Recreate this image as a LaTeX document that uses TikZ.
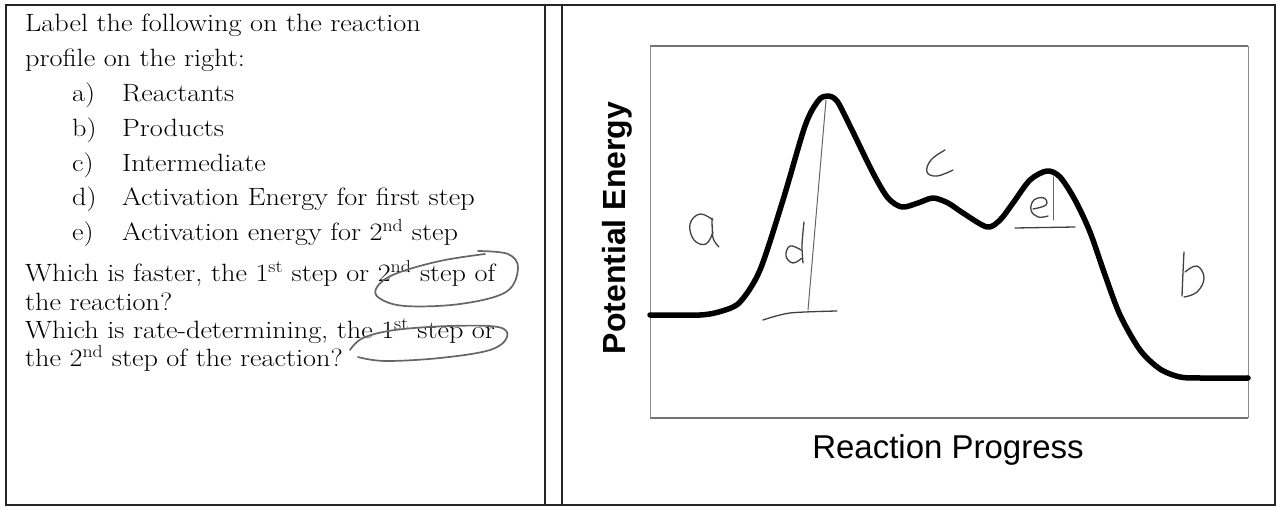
\documentclass[tikz,border=0pt]{standalone}
\usepackage{fontspec}
\usepackage{graphicx}
\newfontfamily\arialf{Liberation Sans}
\newcommand\sx[1]{\scalebox{1.13}[1]{#1}}
\tikzset{
  txt/.style={anchor=base west, inner sep=0pt, font=\fontsize{25}{30}\selectfont},
  ylabel/.style={inner sep=0pt, font=\arialf\bfseries\fontsize{32}{36}\selectfont},
  xlabel/.style={inner sep=0pt, font=\arialf\fontsize{33}{36}\selectfont},
  curve/.style={line width=5.5pt, line cap=round, line join=round},
  pencil/.style={draw=black!75, line width=1.3pt, line cap=round, line join=round},
  penthin/.style={draw=black!60, line width=1pt, line cap=round},
  circ/.style={draw=black!60, line width=1.7pt, line cap=round},
  frameh/.style={draw=black!55, line width=2.5pt},
  framev/.style={draw=black!45, line width=0.9pt},
  tableline/.style={draw=black!85, line width=1.1pt}
}
\begin{document}
\begin{tikzpicture}[x=1pt,y=-1pt]
\useasboundingbox (0,0) rectangle (1278,510);
% table
\draw[tableline] (6,5) rectangle (1275,505);
\draw[tableline] (545,5) -- (545,505);
\draw[tableline] (562,5) -- (562,505);
% left text
\node[txt] (l1) at (25,32) {\sx{Label the following on the reaction}};
\node[txt] (l2) at (25,67) {\sx{profile on the right:}};
\node[txt] (la) at (72,102) {\sx{a)}};
\node[txt] (ta) at (122,102) {\sx{Reactants}};
\node[txt] (lb) at (72,137) {\sx{b)}};
\node[txt] (tb) at (122,137) {\sx{Products}};
\node[txt] (lc) at (72,172) {\sx{c)}};
\node[txt] (tc) at (122,172) {\sx{Intermediate}};
\node[txt] (ld) at (72,206) {\sx{d)}};
\node[txt] (td) at (122,206) {\sx{Activation Energy for first step}};
\node[txt] (le) at (72,241) {\sx{e)}};
\node[txt] (te) at (122,241) {\sx{Activation energy for 2\textsuperscript{nd} step}};
\node[txt] (wf) at (25,282) {\sx{Which is faster, the 1\textsuperscript{st} step or 2\textsuperscript{nd} step of}};
\node[txt] (tr) at (25,311) {\sx{the reaction?}};
\node[txt] (wr) at (25,339) {\sx{Which is rate-determining, the 1\textsuperscript{st} step or}};
\node[txt] (t2) at (25,367) {\sx{the 2\textsuperscript{nd} step of the reaction?}};
% pencil ellipses
\draw[circ] plot[smooth, tension=0.6] coordinates {(478,251) (508,254) (518,268) (506,292) (460,304) (405,306) (379,298) (377,287) (395,274) (440,261) (485,254)};
\draw[circ] plot[smooth, tension=0.6] coordinates {(350,350) (363,338) (395,330) (450,326) (498,327) (507,337) (490,350) (440,358) (385,361) (358,357)};
% chart frame
\draw[frameh] (650,46) -- (1248,46);
\draw[frameh] (650,418) -- (1248,418);
\draw[framev] (650,46) -- (650,418);
\draw[framev] (1248,46) -- (1248,418);
% axis titles
\node[ylabel, rotate=90] (ylab) at (617,228) {Potential Energy};
\node[xlabel] (xlab) at (948,450) {Reaction Progress};
% reaction profile
\draw[curve] plot[smooth, tension=0.5] coordinates {(650,315) (700,315) (722,311) (740,302) (760,270) (783,200) (805,126) (818,101) (827,96) (837,101) (851,128) (873,173) (888,198) (902,207) (918,203) (933,198) (948,203) (963,213) (987,227) (1000,220) (1013,203) (1030,180) (1047,171) (1060,177) (1075,200) (1090,232) (1105,275) (1120,315) (1140,350) (1160,369) (1180,377) (1200,378) (1248,378)};
% handwritten d line and bar
\draw[penthin] (826,100) -- (808,310);
\draw[pencil] plot[smooth] coordinates {(763,320) (790,313) (837,311)};
% handwritten e line and bar
\draw[penthin] (1053,177) -- (1053,220);
\draw[pencil] (1015,228) -- (1075,227);
% letter a
\draw[pencil] plot[smooth, tension=0.7] coordinates {(713,220) (700,214) (690,224) (694,240) (706,244) (713,232)};
\draw[pencil] plot[smooth] coordinates {(712,218) (713,238) (719,247)};
% letter d
\draw[pencil] plot[smooth, tension=0.7] coordinates {(801,250) (790,246) (786,256) (793,263) (802,258)};
\draw[pencil] plot[smooth] coordinates {(804,222) (802,245) (803,263)};
% letter c
\draw[pencil] plot[smooth, tension=0.7] coordinates {(945,150) (931,160) (927,172) (937,176) (953,170)};
% letter e
\draw[pencil] plot[smooth, tension=0.7] coordinates {(1033,209) (1046,205) (1044,198) (1034,200) (1031,210) (1038,217) (1048,216)};
% letter b
\draw[pencil] plot[smooth] coordinates {(1184,252) (1183,272) (1182,296)};
\draw[pencil] plot[smooth, tension=0.7] coordinates {(1185,272) (1197,266) (1204,278) (1197,292) (1184,297)};
\end{tikzpicture}
\end{document}
